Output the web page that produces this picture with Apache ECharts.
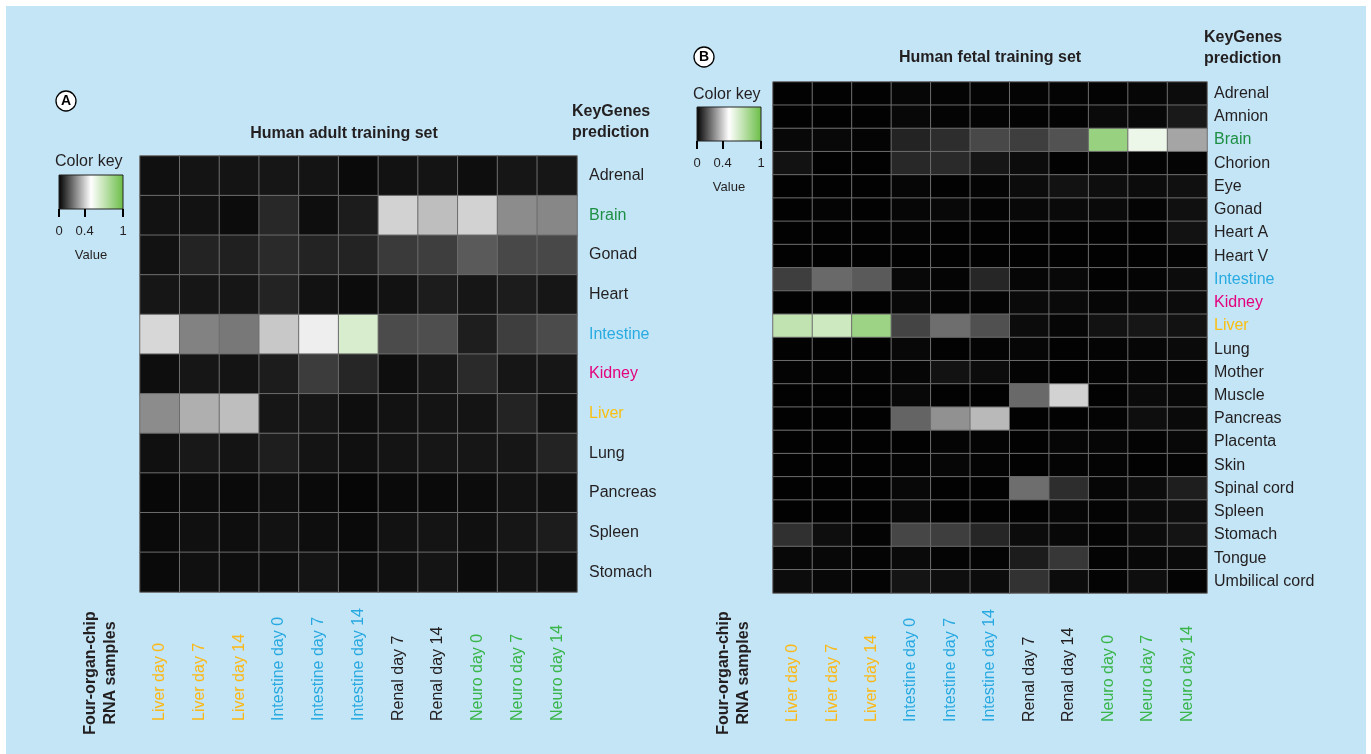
<!DOCTYPE html>
<html><head><meta charset="utf-8">
<script src="https://cdn.jsdelivr.net/npm/echarts@6/dist/echarts.min.js"></script>
<style>
html,body{margin:0;padding:0;background:#fff;width:1371px;height:754px;overflow:hidden}
#bg{position:absolute;left:6px;top:6px;width:1360px;height:748px;background:#c3e5f6}
#chart{position:absolute;left:0;top:0;width:1371px;height:754px}
</style></head><body><div id="bg"></div><div id="chart"></div>
<script>
const samples = ['Liver day 0','Liver day 7','Liver day 14','Intestine day 0','Intestine day 7','Intestine day 14','Renal day 7','Renal day 14','Neuro day 0','Neuro day 7','Neuro day 14'];
const adultOrgans = ['Adrenal','Brain','Gonad','Heart','Intestine','Kidney','Liver','Lung','Pancreas','Spleen','Stomach'];
const fetalOrgans = ['Adrenal','Amnion','Brain','Chorion','Eye','Gonad','Heart A','Heart V','Intestine','Kidney','Liver','Lung','Mother','Muscle','Pancreas','Placenta','Skin','Spinal cord','Spleen','Stomach','Tongue','Umbilical cord'];
// rows = organs (top to bottom), columns = samples
const adultValues = [
  [0.031,0.039,0.039,0.043,0.039,0.020,0.035,0.039,0.027,0.043,0.043],
  [0.035,0.035,0.024,0.078,0.027,0.055,0.412,0.373,0.412,0.275,0.265],
  [0.035,0.069,0.063,0.082,0.069,0.069,0.114,0.122,0.176,0.141,0.141],
  [0.043,0.043,0.043,0.069,0.035,0.024,0.035,0.055,0.043,0.055,0.043],
  [0.422,0.255,0.235,0.392,0.467,0.635,0.147,0.153,0.059,0.122,0.147],
  [0.027,0.043,0.039,0.055,0.118,0.075,0.027,0.043,0.082,0.043,0.043],
  [0.275,0.343,0.373,0.043,0.043,0.027,0.035,0.039,0.039,0.069,0.035],
  [0.031,0.047,0.039,0.059,0.039,0.031,0.039,0.043,0.043,0.043,0.069],
  [0.016,0.024,0.020,0.027,0.020,0.012,0.020,0.020,0.024,0.035,0.031],
  [0.020,0.031,0.027,0.035,0.027,0.020,0.035,0.039,0.031,0.043,0.055],
  [0.020,0.031,0.027,0.027,0.039,0.024,0.031,0.039,0.024,0.035,0.031]
];
const fetalValues = [
  [0.004,0.004,0.004,0.012,0.008,0.008,0.008,0.008,0.006,0.012,0.024],
  [0.004,0.004,0.004,0.016,0.008,0.008,0.006,0.006,0.020,0.016,0.049],
  [0.016,0.016,0.008,0.069,0.088,0.141,0.122,0.161,0.845,0.560,0.324],
  [0.035,0.004,0.004,0.078,0.082,0.043,0.024,0.004,0.012,0.008,0.008],
  [0.004,0.004,0.004,0.012,0.004,0.008,0.024,0.035,0.027,0.024,0.031],
  [0.004,0.008,0.004,0.012,0.016,0.008,0.016,0.020,0.020,0.008,0.031],
  [0.004,0.004,0.004,0.008,0.004,0.004,0.004,0.004,0.004,0.004,0.035],
  [0.004,0.004,0.004,0.004,0.004,0.004,0.004,0.004,0.004,0.004,0.008],
  [0.122,0.206,0.176,0.016,0.008,0.075,0.012,0.016,0.004,0.008,0.024],
  [0.004,0.004,0.004,0.016,0.008,0.008,0.020,0.020,0.012,0.016,0.024],
  [0.710,0.670,0.830,0.133,0.216,0.157,0.024,0.012,0.035,0.043,0.035],
  [0.004,0.004,0.004,0.016,0.004,0.008,0.012,0.004,0.008,0.012,0.020],
  [0.008,0.008,0.008,0.012,0.035,0.024,0.008,0.004,0.008,0.012,0.012],
  [0.004,0.004,0.004,0.016,0.004,0.004,0.206,0.412,0.004,0.020,0.016],
  [0.004,0.004,0.004,0.196,0.284,0.363,0.004,0.004,0.008,0.027,0.020],
  [0.004,0.004,0.004,0.004,0.008,0.008,0.004,0.012,0.012,0.008,0.016],
  [0.004,0.004,0.004,0.008,0.012,0.008,0.004,0.008,0.008,0.004,0.008],
  [0.004,0.004,0.004,0.016,0.004,0.004,0.216,0.088,0.012,0.024,0.059],
  [0.004,0.004,0.004,0.016,0.004,0.004,0.004,0.012,0.008,0.020,0.027],
  [0.094,0.027,0.008,0.137,0.122,0.075,0.024,0.016,0.008,0.024,0.039],
  [0.016,0.016,0.008,0.020,0.008,0.008,0.055,0.108,0.008,0.016,0.020],
  [0.024,0.016,0.008,0.039,0.027,0.024,0.098,0.024,0.008,0.027,0.008]
];
const keyTicks = [0, 0.4, 1];
const keyColors = ['#000000', '#ffffff', '#6abd45'];

const FONT = "'Liberation Sans', Arial, Helvetica, sans-serif";
const TXT = '#231f20';
const organColor = {Brain:'#1d8f43', Intestine:'#29abe2', Kidney:'#e5007e', Liver:'#f9bf12'};
function sampleColor(s){
  if (s.indexOf('Liver') === 0) return '#fbb817';
  if (s.indexOf('Intestine') === 0) return '#29a9e1';
  if (s.indexOf('Neuro') === 0) return '#39b54a';
  return TXT;
}
function toCells(m){
  const out = [];
  m.forEach((row, r) => row.forEach((v, c) => out.push([c, r, v])));
  return out;
}
const keyGradient = new echarts.graphic.LinearGradient(0, 0, 1, 0,
  keyColors.map((c, i) => ({offset: i / (keyColors.length - 1), color: c})));

function heatX(gi, margin){
  return {type:'category', gridIndex:gi, data:samples, axisLine:{show:false}, axisTick:{show:false},
    splitLine:{show:false}, splitArea:{show:false},
    axisLabel:{interval:0, rotate:90, align:'left', verticalAlign:'middle', margin:margin,
      fontSize:16, fontFamily:FONT, color:(v)=>sampleColor(v)}};
}
function heatY(gi, organs, margin){
  return {type:'category', gridIndex:gi, data:organs, position:'right', inverse:true,
    axisLine:{show:false}, axisTick:{show:false}, splitLine:{show:false}, splitArea:{show:false},
    axisLabel:{interval:0, margin:margin, fontSize:16, fontFamily:FONT,
      color:(v)=>organColor[v] || TXT}};
}
function keyX(gi){
  return {type:'value', gridIndex:gi, min:0, max:1, position:'bottom',
    axisLine:{show:false}, splitLine:{show:false},
    axisTick:{show:true, customValues:keyTicks, length:8, lineStyle:{color:'#000', width:2}},
    axisLabel:{customValues:keyTicks, margin:16, fontSize:13, fontFamily:FONT, color:TXT},
    name:'Value', nameLocation:'middle', nameGap:40,
    nameTextStyle:{fontSize:13, fontFamily:FONT, color:TXT}};
}
function circleLetter(cx, cy, letter){
  return [
    {type:'circle', shape:{cx:cx, cy:cy, r:10}, style:{fill:'#fff', stroke:'#000', lineWidth:1.3}},
    {type:'text', x:cx, y:cy+0.5, style:{text:letter, fontSize:14, fontWeight:'bold', fontFamily:FONT,
      fill:'#000', align:'center', verticalAlign:'middle'}}
  ];
}
function txt(x, y, text, opts){
  return Object.assign({type:'text', x:x, y:y, style:Object.assign({text:text, fontFamily:FONT, fill:TXT,
    fontSize:16, align:'left', verticalAlign:'middle'}, opts || {})});
}

const chart = echarts.init(document.getElementById('chart'), null, {renderer:'canvas'});
chart.setOption({
  backgroundColor:'transparent',
  animation:false,
  textStyle:{fontFamily:FONT},
  grid:[
    {left:140, top:156, width:437, height:436},
    {left:773, top:82, width:434, height:511},
    {left:59, top:175, width:64, height:34, show:true, backgroundColor:keyGradient, borderColor:'#222', borderWidth:1},
    {left:697, top:107, width:64, height:34, show:true, backgroundColor:keyGradient, borderColor:'#222', borderWidth:1}
  ],
  xAxis:[heatX(0, 129), heatX(1, 129), keyX(2), keyX(3)],
  yAxis:[heatY(0, adultOrgans, 12), heatY(1, fetalOrgans, 7),
    {type:'value', gridIndex:2, show:false, min:0, max:1},
    {type:'value', gridIndex:3, show:false, min:0, max:1}],
  visualMap:{type:'continuous', show:false, min:0, max:1, seriesIndex:[0,1], inRange:{color:keyColors}},
  series:[
    {type:'heatmap', xAxisIndex:0, yAxisIndex:0, data:toCells(adultValues),
      itemStyle:{borderColor:'#6c6c6c', borderWidth:1}, emphasis:{disabled:true}},
    {type:'heatmap', xAxisIndex:1, yAxisIndex:1, data:toCells(fetalValues),
      itemStyle:{borderColor:'#6c6c6c', borderWidth:1}, emphasis:{disabled:true}}
  ],
  graphic:[].concat(
    circleLetter(66, 101, 'A'),
    circleLetter(704, 57, 'B'),
    [
      txt(344, 134, 'Human adult training set', {fontWeight:'bold', align:'center'}),
      txt(990, 58, 'Human fetal training set', {fontWeight:'bold', align:'center'}),
      txt(572, 122, 'KeyGenes\nprediction', {fontWeight:'bold', lineHeight:21}),
      txt(1204, 48, 'KeyGenes\nprediction', {fontWeight:'bold', lineHeight:21}),
      txt(55, 162, 'Color key'),
      txt(693, 95, 'Color key'),
      Object.assign(txt(101, 673, 'Four-organ-chip\nRNA samples', {fontWeight:'bold', align:'center', lineHeight:20}), {rotation:Math.PI/2}),
      Object.assign(txt(734, 673, 'Four-organ-chip\nRNA samples', {fontWeight:'bold', align:'center', lineHeight:20}), {rotation:Math.PI/2})
    ]
  )
});
</script></body></html>
